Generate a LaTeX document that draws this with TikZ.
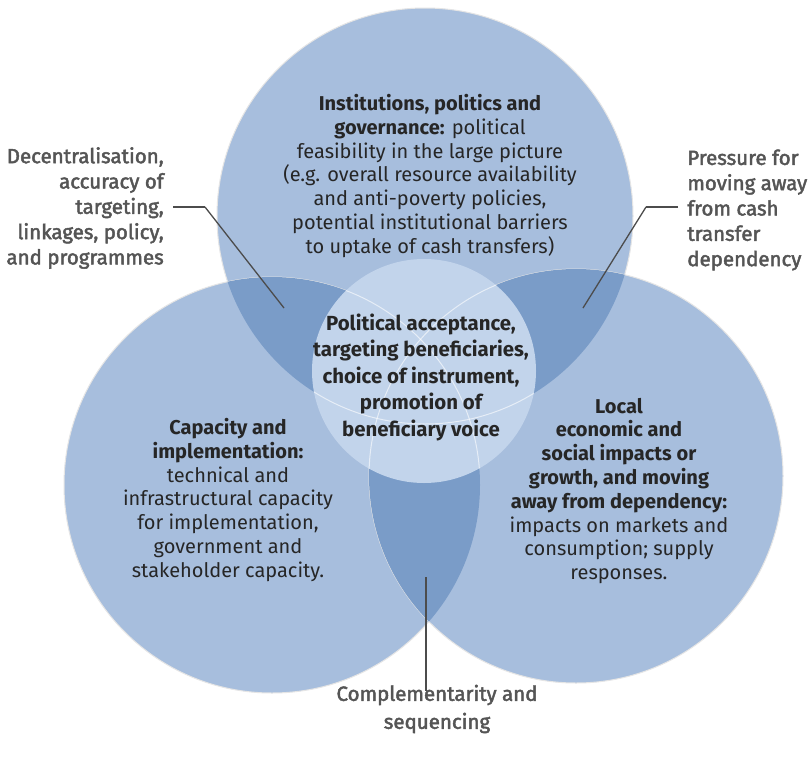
\documentclass[tikz,border=0pt]{standalone}
\usepackage{fontspec}
\setmainfont{Fira Sans}
\newfontfamily\calloutfont{Fira Sans}[FakeBold=2.2]
\usetikzlibrary{positioning,calc}

\definecolor{ringBlue}{RGB}{167,190,221}
\definecolor{overlapBlue}{RGB}{122,156,200}
\definecolor{coreBlue}{RGB}{194,212,235}
\definecolor{calloutGray}{RGB}{85,85,85}

\begin{document}
\begin{tikzpicture}[x=1pt,y=-1pt,semithick]

\tikzset{
	circleText/.style={
		align=center,
		text=black!85,
		inner sep=0pt,
		font=\fontsize{20}{23.8}\selectfont
	}
}

\tikzset{
	coreText/.style={
		align=center,
		text=black!85,
		inner sep=0pt,
		font=\fontsize{20.4}{26.5}\selectfont\bfseries
	}
}

\tikzset{
	callout/.style={
		text=calloutGray,
		inner sep=0pt,
		font=\fontsize{20.5}{25.3}\selectfont\calloutfont
	}
}

\tikzset{
	leader/.style={
		-,
		draw=black!70,
		line width=1.3pt
	}
}

\tikzset{
	rim/.style={
		draw=white!80!gray,
		line width=1pt
	}
}

\useasboundingbox (0,0) rectangle (808,763);
\fill[white] (0,0) rectangle (808,763);

\coordinate (Inst) at (425,216);
\coordinate (Cap) at (272,485);
\coordinate (Econ) at (576,476);
\coordinate (Core) at (424,371);

% three circles
\fill[ringBlue,rim] (Inst) circle (208);
\fill[ringBlue,rim] (Cap) circle (208);
\fill[ringBlue,rim] (Econ) circle (207);

% overlaps
\begin{scope}
\clip (Inst) circle (208);
\fill[overlapBlue] (Cap) circle (208);
\fill[overlapBlue] (Econ) circle (207);
\end{scope}
\begin{scope}
\clip (Cap) circle (208);
\fill[overlapBlue] (Econ) circle (207);
\end{scope}

% centre circle
\fill[coreBlue] (Core) circle (112);
\begin{scope}
\clip (Core) circle (112);
\draw[white,opacity=0.6,line width=1pt] (Inst) circle (208);
\draw[white,opacity=0.6,line width=1pt] (Cap) circle (208);
\draw[white,opacity=0.6,line width=1pt] (Econ) circle (207);
\end{scope}

\node[circleText](InstText) at (430,176) {\textbf{Institutions, politics and}\\
\textbf{governance:} political\\
feasibility in the large picture\\
(e.g. overall resource availability\\
and anti-poverty policies,\\
potential institutional barriers\\
to uptake of cash transfers)};

\node[coreText](CoreText) at (421,377) {Political acceptance,\\
targeting beneficiaries,\\
choice of instrument,\\
promotion of\\
beneficiary voice};

\node[circleText](CapText) at (228,500) {\textbf{Capacity and}\\
\textbf{implementation:}\\
technical and\\
infrastructural capacity\\
for implementation,\\
government and\\
stakeholder capacity.};

\node[circleText](EconText) at (619,491) {\textbf{Local}\\
\textbf{economic and}\\
\textbf{social impacts or}\\
\textbf{growth, and moving}\\
\textbf{away from dependency:}\\
impacts on markets and\\
consumption; supply\\
responses.};

\node[callout,align=right,anchor=east](DecLabel) at (164,208) {Decentralisation,\\
accuracy of\\
targeting,\\
linkages, policy,\\
and programmes};

\node[callout,align=left,anchor=west](PressLabel) at (687,210) {Pressure for\\
moving away\\
from cash\\
transfer\\
dependency};

\node[callout,align=center,font=\fontsize{20.5}{28}\selectfont\calloutfont](CompLabel) at (437,709) {Complementarity and\\
sequencing};

\coordinate (DecBend) at (205,207);
\coordinate (DecTip) at (284,308);
\coordinate (PressBend) at (646,207);
\coordinate (PressTip) at (583,308);
\coordinate (CompTip) at (426,577);

\path[leader] ([xshift=9]DecLabel.east |- DecBend) edge (DecBend);
\path[leader] (DecBend) edge (DecTip);
\path[leader] ([xshift=-9]PressLabel.west |- PressBend) edge (PressBend);
\path[leader] (PressBend) edge (PressTip);
\path[leader] (CompTip) edge ([yshift=-6]CompTip |- CompLabel.north);

\end{tikzpicture}
\end{document}
